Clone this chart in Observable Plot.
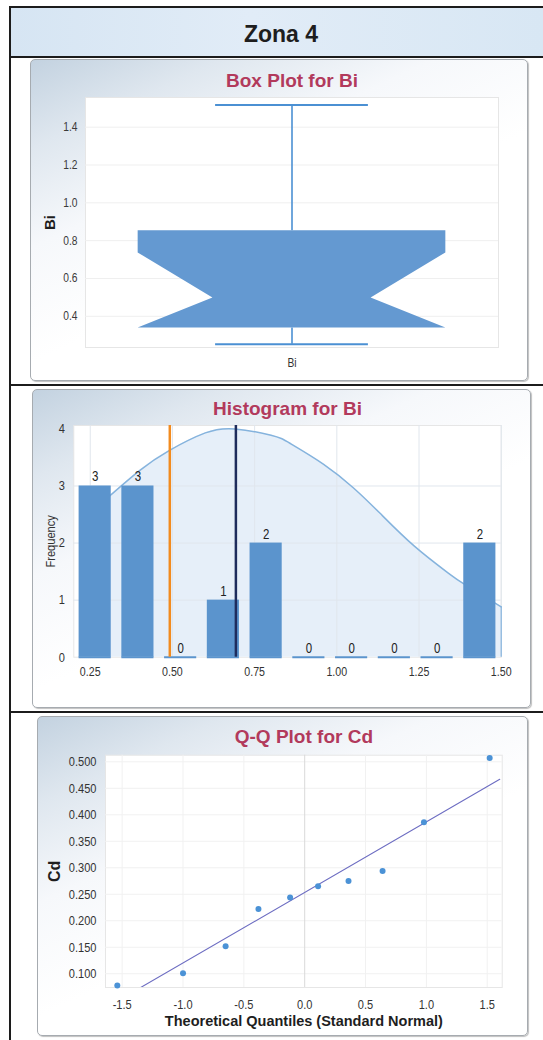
<!DOCTYPE html>
<html>
<head>
<meta charset="utf-8">
<script src="https://cdn.jsdelivr.net/npm/d3@7"></script>
<script src="https://cdn.jsdelivr.net/npm/@observablehq/plot@0.6"></script>
<style>
html,body{margin:0;padding:0;background:#fff;}
body{width:543px;height:1040px;position:relative;overflow:hidden;font-family:"Liberation Sans",Arial,sans-serif;}
.abs{position:absolute;}
.hdr{left:10px;top:7px;width:533px;height:50px;background:linear-gradient(90deg,#d6e5f3 0%,#e1ecf7 45%,#d8e7f4 100%);}
.hl{left:9px;width:534px;height:2px;background:#1c1c1c;}
.vl{left:9px;top:6px;width:2px;height:1034px;background:#1c1c1c;}
.panel{box-sizing:border-box;border:1px solid #a6abb0;border-radius:5px;
  background:linear-gradient(155deg,#c3d2e0 0%,#dfe7ef 16%,#f6f8fb 34%,#ffffff 55%);
  box-shadow:1px 1px 1px rgba(0,0,0,.25);}
.zona{left:181px;top:19px;width:200px;text-align:center;font-weight:bold;font-size:23px;color:#1e1e1e;line-height:30px;}
</style>
</head>
<body>
<div class="abs hdr"></div>
<div class="abs hl" style="top:6px"></div>
<div class="abs hl" style="top:56px"></div>
<div class="abs hl" style="top:384px"></div>
<div class="abs hl" style="top:711px"></div>
<div class="abs vl"></div>
<div class="abs zona">Zona 4</div>
<div class="abs panel" style="left:30px;top:59px;width:498px;height:322px"></div>
<div class="abs panel" style="left:32px;top:389px;width:499px;height:319px"></div>
<div class="abs panel" style="left:37px;top:716px;width:491px;height:320px"></div>
<div id="c1"></div><div id="c2"></div><div id="c3"></div>
<script>
// ---------- Data: Box plot for Bi ----------
const boxCategory = ["Bi"];
const boxStatNames = ["whiskerLow", "q1", "median", "notchHigh", "q3", "whiskerHigh"];
const boxStatValues = [0.252, 0.338, 0.497, 0.735, 0.852, 1.518];
const boxTicks = [0.4, 0.6, 0.8, 1.0, 1.2, 1.4];

// ---------- Data: Histogram for Bi ----------
const histBinStart = [0.20, 0.33, 0.46, 0.59, 0.72, 0.85, 0.98, 1.11, 1.24, 1.37];
const histBinEnd   = [0.33, 0.46, 0.59, 0.72, 0.85, 0.98, 1.11, 1.24, 1.37, 1.50];
const histCounts   = [3, 3, 0, 1, 2, 0, 0, 0, 0, 2];
const histXTicks = [0.25, 0.50, 0.75, 1.00, 1.25, 1.50];
const histYTicks = [0, 1, 2, 3, 4];
const histMedian = 0.492;
const histMean = 0.693;
const curveX = [0.30, 0.40, 0.49, 0.60, 0.69, 0.80, 0.86, 0.96, 1.05, 1.13, 1.235, 1.34, 1.39, 1.50];
const curveY = [2.78, 3.27, 3.62, 3.93, 4.00, 3.89, 3.74, 3.38, 2.97, 2.53, 1.95, 1.47, 1.27, 0.88];

// ---------- Data: Q-Q plot for Cd ----------
const qqTheoretical = [-1.54, -1.00, -0.65, -0.38, -0.12, 0.11, 0.36, 0.64, 0.98, 1.52];
const qqSample      = [0.078, 0.101, 0.152, 0.222, 0.244, 0.265, 0.275, 0.294, 0.386, 0.507];
const qqLineX = [-1.363, 1.603];
const qqLineY = [0.072, 0.467];
const qqXTicks = [-1.5, -1.0, -0.5, 0.0, 0.5, 1.0, 1.5];
const qqYTicks = [0.100, 0.150, 0.200, 0.250, 0.300, 0.350, 0.400, 0.450, 0.500];

// ---------- narrow (condensed) font: real one if installed, else a horizontal squeeze ----------
function hasFont(name) {
  const c = document.createElement("canvas").getContext("2d");
  const s = "0.123456789 Frequency";
  c.font = "20px monospace"; const a = c.measureText(s).width;
  c.font = `20px "${name}", monospace`; const b = c.measureText(s).width;
  return a !== b;
}
const narrow = hasFont("Liberation Sans Narrow") ? "Liberation Sans Narrow" : null;
const tickFont = narrow ? `"${narrow}", "Liberation Sans", sans-serif` : `"Liberation Sans", Arial, sans-serif`;
const SQUEEZE = 0.82;
function condense(svg) {
  if (narrow) return;
  svg.querySelectorAll('g[aria-label$="tick label"] text, g.cond text').forEach(t => {
    const tr = t.getAttribute("transform") || "";
    t.setAttribute("transform", `${tr} scale(${SQUEEZE},1)`.trim());
  });
}

const titleColor = "#b23a5c";
const baseFont = `"Liberation Sans", Arial, sans-serif`;
const svgStyle = {background: "transparent", overflow: "visible", fontFamily: baseFont};

function place(el, top, id) {
  condense(el);
  el.style.top = top + "px";
  el.style.position = "absolute";
  el.style.left = "0px";
  document.getElementById(id).appendChild(el);
}
const yTitle = (t, dx, size, extra = {}) =>
  Plot.text([t], {frameAnchor: "left", dx, rotate: -90, textAnchor: "middle", lineAnchor: "middle",
    text: d => d, fontSize: size, ...extra});
const topTitle = (t, dy) =>
  Plot.text([t], {frameAnchor: "top", dy, textAnchor: "middle", lineAnchor: "middle",
    text: d => d, fontSize: 19, fontWeight: "bold", fill: titleColor});

// ---------- Chart 1: notched box plot ----------
{
  const v = Object.fromEntries(boxStatNames.map((n, i) => [n, boxStatValues[i]]));
  const BOX_HW = 0.745, NOTCH_HW = 0.383, CAP_HW = 0.37;
  const shape = [
    {y: v.q1, hw: BOX_HW},
    {y: v.median, hw: NOTCH_HW},
    {y: v.notchHigh, hw: BOX_HW},
    {y: v.q3, hw: BOX_HW}
  ];
  const chart = Plot.plot({
    width: 543, height: 320,
    marginTop: 37, marginBottom: 33, marginLeft: 85, marginRight: 45,
    style: svgStyle,
    x: {domain: [-1, 1], axis: null},
    y: {domain: [0.235, 1.557]},
    marks: [
      Plot.frame({fill: "white", stroke: "#e6e6e6"}),
      Plot.gridY(boxTicks, {stroke: "#efefef", strokeOpacity: 1}),
      Plot.axisY({ticks: boxTicks, tickSize: 0, tickPadding: 8, tickFormat: d3.format(".1f"),
        fontSize: 12.5, fontFamily: tickFont, fill: "#3a3a3a", label: null}),
      Plot.ruleX([0], {y1: v.q3, y2: v.whiskerHigh, stroke: "#4b90d3", strokeWidth: 1.6}),
      Plot.ruleX([0], {y1: v.whiskerLow, y2: v.q1, stroke: "#4b90d3", strokeWidth: 1.6}),
      Plot.ruleY([v.whiskerLow, v.whiskerHigh], {x1: -CAP_HW, x2: CAP_HW, stroke: "#4b90d3", strokeWidth: 2}),
      Plot.areaX(shape, {y: "y", x1: d => -d.hw, x2: d => d.hw, fill: "#6499d1", curve: "linear"}),
      Plot.text(boxCategory, {x: 0, text: d => d, frameAnchor: "bottom", lineAnchor: "middle", dy: 15,
        fontSize: 12.5, fontFamily: tickFont, fill: "#333", className: "cond"}),
      yTitle("Bi", -35, 15, {fontWeight: "bold", fill: "#1e1e1e"}),
      topTitle("Box Plot for Bi", -17)
    ]
  });
  place(chart, 60, "c1");
}

// ---------- Chart 2: histogram ----------
{
  const bins = histCounts.map((c, i) => ({x1: histBinStart[i], x2: histBinEnd[i], count: c}));
  const curve = curveX.map((x, i) => ({x, y: curveY[i]}));
  const last = curve[curve.length - 1];
  const barColor = "#5b94cd";
  const chart = Plot.plot({
    width: 543, height: 316,
    marginTop: 35, marginBottom: 49.3, marginLeft: 73.3, marginRight: 42.3,
    style: svgStyle,
    x: {domain: [0.2, 1.5]},
    y: {domain: [0, 4.06]},
    marks: [
      Plot.frame({fill: "white", stroke: "#e6e6e6"}),
      Plot.areaY(curve, {x: "x", y: "y", fill: "#e6eff9", curve: "natural"}),
      Plot.gridX(histXTicks, {stroke: "#e0e6ed", strokeOpacity: 1}),
      Plot.gridY([1, 2, 3], {stroke: "#e0e6ed", strokeOpacity: 1}),
      Plot.lineY(curve, {x: "x", y: "y", stroke: "#85b3dd", strokeWidth: 1.5, curve: "natural"}),
      Plot.ruleX([last], {x: "x", y1: 0, y2: "y", stroke: "#85b3dd", strokeWidth: 1.2}),
      Plot.ruleY(bins, {x1: "x1", x2: "x2", y: 0, insetLeft: 5.3, insetRight: 5.3, stroke: barColor, strokeWidth: 2}),
      Plot.rectY(bins, {x1: "x1", x2: "x2", y1: 0, y2: "count", insetLeft: 5.3, insetRight: 5.3, fill: barColor}),
      Plot.ruleX([histMedian], {stroke: "#f28b1f", strokeWidth: 2.5}),
      Plot.ruleX([histMean], {stroke: "#1e2c5c", strokeWidth: 2.5}),
      Plot.text(bins, {x: d => (d.x1 + d.x2) / 2, y: "count", text: d => String(d.count), dy: -9,
        fontSize: 14, fontFamily: tickFont, fill: "#222", className: "cond"}),
      Plot.axisY({ticks: histYTicks, tickSize: 0, tickPadding: 9, tickFormat: d3.format("d"),
        fontSize: 13.5, fontFamily: tickFont, fill: "#333", label: null}),
      Plot.axisX({ticks: histXTicks, tickSize: 0, tickPadding: 10, tickFormat: d3.format(".2f"),
        fontSize: 13, fontFamily: tickFont, fill: "#333", label: null}),
      yTitle("Frequency", -23, 13.5, {fontFamily: tickFont, fill: "#333", className: "cond"}),
      topTitle("Histogram for Bi", -16.6)
    ]
  });
  place(chart, 390, "c2");
}

// ---------- Chart 3: Q-Q plot ----------
{
  const pts = qqTheoretical.map((x, i) => ({x, y: qqSample[i]}));
  const ref = qqLineX.map((x, i) => ({x, y: qqLineY[i]}));
  const chart = Plot.plot({
    width: 543, height: 316,
    marginTop: 37.7, marginBottom: 46, marginLeft: 105, marginRight: 41.3,
    style: svgStyle,
    x: {domain: [-1.637, 1.623]},
    y: {domain: [0.074, 0.5125]},
    marks: [
      Plot.frame({fill: "white", stroke: "#e6e6e6"}),
      Plot.gridY(qqYTicks, {stroke: "#f1f1f1", strokeOpacity: 1}),
      Plot.gridX(qqXTicks.filter(d => d !== 0), {stroke: "#f1f1f1", strokeOpacity: 1}),
      Plot.gridX([0], {stroke: "#d9d9d9", strokeOpacity: 1}),
      Plot.line(ref, {x: "x", y: "y", stroke: "#6d6dc2", strokeWidth: 1.1, clip: true}),
      Plot.dot(pts, {x: "x", y: "y", r: 3, fill: "#4b92d6"}),
      Plot.axisY({ticks: qqYTicks, tickSize: 0, tickPadding: 9, tickFormat: d3.format(".3f"),
        fontSize: 13.5, fontFamily: tickFont, fill: "#333", label: null}),
      Plot.axisX({ticks: qqXTicks, tickSize: 0, tickPadding: 12, tickFormat: d => d.toFixed(1),
        fontSize: 13.5, fontFamily: tickFont, fill: "#333", label: null}),
      yTitle("Cd", -51, 16, {fontWeight: "bold", fill: "#1e1e1e"}),
      Plot.text(["Theoretical Quantiles (Standard Normal)"], {frameAnchor: "bottom", dy: 33.5,
        textAnchor: "middle", lineAnchor: "middle", text: d => d, fontSize: 14.5, fontWeight: "bold", fill: "#1e1e1e"}),
      topTitle("Q-Q Plot for Cd", -18.7)
    ]
  });
  place(chart, 717, "c3");
}
</script>
</body>
</html>
